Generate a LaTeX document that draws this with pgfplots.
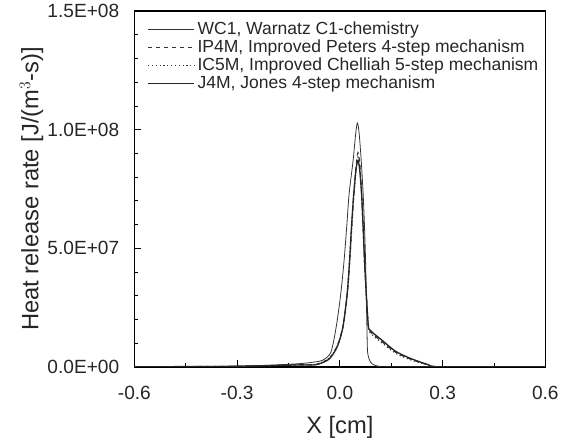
\documentclass[border=0pt]{standalone}
\usepackage{fontspec}
\setmainfont{Liberation Sans}
\usepackage{pgfplots}
\pgfplotsset{compat=1.18}

% heat release rate, values in 1E6 J/(m^3 s)
\begin{document}
\begin{tikzpicture}
\begin{axis}[
    width=312pt, height=270pt, scale only axis,
    xmin=-0.6, xmax=0.6, ymin=0, ymax=150,
    xtick={-0.6,-0.3,0,0.3,0.6},
    xticklabels={-0.6,-0.3,0.0,0.3,0.6},
    minor xtick={-0.45,-0.15,0.15,0.45},
    ytick={0,50,100,150},
    yticklabels={0.0E+00,5.0E+07,1.0E+08,1.5E+08},
    minor ytick={10,20,30,40,60,70,80,90,110,120,130,140},
    tick pos=left, tick align=inside,
    major tick length=5pt, minor tick length=3pt,
    tick style={black, line width=0.6pt},
    axis line style={black, line width=1.2pt},
    ticklabel style={font=\fontsize{14.5}{17}\selectfont, text=black!85},
    xticklabel style={yshift=-11pt},
    yticklabel style={xshift=-8pt},
    xlabel={X [cm]}, ylabel={Heat release rate [J/(m$^3$-s)]},
    label style={font=\fontsize{18}{21}\selectfont, text=black!85},
    xlabel style={at={(axis description cs:0.5,-0.17)}, anchor=center},
    ylabel style={at={(axis description cs:-0.25,0.5)}, anchor=center},
    legend style={draw=none, fill=none, at={(0.025,0.985)}, anchor=north west,
        font=\fontsize{13.3}{15.5}\selectfont, text=black!85,
        row sep=-1.5pt, inner sep=2pt},
    legend cell align=left,
    legend image code/.code={\draw[#1] (0pt,0pt) -- (35pt,0pt);},
    every axis plot/.append style={smooth, tension=0.45},
    % white margin left of the y label, as in the reference
    extra description/.code={\path (axis description cs:-0.327,0.5);},
]
% WC1
\addplot[black!80, line width=0.6pt] coordinates {
(-0.60,0) (-0.40,0.1) (-0.30,0.3) (-0.20,0.7) (-0.12,1.3) (-0.08,1.9) (-0.05,2.8)
(-0.026,6.2) (-0.010,17.4) (0.003,31.2) (0.0125,45.1) (0.020,59.0) (0.027,72.9)
(0.0385,86.8) (0.046,98.0) (0.051,102.8) (0.056,99.0) (0.0625,86.8) (0.068,72.9)
(0.072,59.0) (0.075,45.1) (0.077,31.2) (0.079,17.4) (0.081,6.2) (0.089,2.1)
(0.10,0.8) (0.115,0.2) (0.15,0) (0.6,0)};
\addlegendentry{WC1, Warnatz C1-chemistry}
% IP4M
\addplot[black!80, line width=0.9pt, dashed] coordinates {
(-0.60,0) (-0.40,0.1) (-0.30,0.2) (-0.20,0.5) (-0.12,0.9) (-0.069,1.0) (-0.031,3.5)
(-0.007,9.0) (0.0096,17.4) (0.022,31.2) (0.029,45.1) (0.0346,59.0) (0.041,72.9)
(0.048,85.5) (0.053,90.3) (0.058,86.0) (0.0635,72.9) (0.068,59.0) (0.072,45.1)
(0.077,31.2) (0.083,17.4) (0.089,14.8) (0.123,10.6) (0.16,6.4) (0.20,3.6)
(0.258,0.8) (0.296,0) (0.6,0)};
\addlegendentry{IP4M, Improved Peters 4-step mechanism}
% IC5M
\addplot[black!80, line width=0.9pt, dotted] coordinates {
(-0.60,0) (-0.40,0.1) (-0.30,0.2) (-0.20,0.5) (-0.12,0.9) (-0.069,1.1) (-0.031,3.7)
(-0.006,9.3) (0.0100,17.8) (0.022,31.5) (0.029,45.3) (0.035,59.2) (0.041,72.9)
(0.048,84.5) (0.053,88.4) (0.058,84.5) (0.0635,72.9) (0.068,59.0) (0.072,45.1)
(0.077,31.2) (0.083,17.2) (0.089,14.3) (0.123,10.1) (0.16,6.0) (0.20,3.3)
(0.258,0.7) (0.296,0) (0.6,0)};
\addlegendentry{IC5M, Improved Chelliah 5-step mechanism}
% J4M
\addplot[black!85, line width=1.0pt] coordinates {
(-0.60,0) (-0.40,0.1) (-0.30,0.2) (-0.20,0.5) (-0.12,0.8) (-0.069,0.9) (-0.031,3.3)
(-0.007,8.7) (0.0093,17.0) (0.0215,31.0) (0.0285,45.0) (0.034,59.0) (0.0405,72.9)
(0.0475,83.5) (0.053,87.0) (0.058,83.0) (0.0635,72.9) (0.068,59.0) (0.072,45.1)
(0.077,31.2) (0.083,17.6) (0.089,15.3) (0.123,11.2) (0.16,6.8) (0.20,3.9)
(0.258,0.9) (0.296,0) (0.6,0)};
\addlegendentry{J4M, Jones 4-step mechanism}
\end{axis}
\end{tikzpicture}
\end{document}
